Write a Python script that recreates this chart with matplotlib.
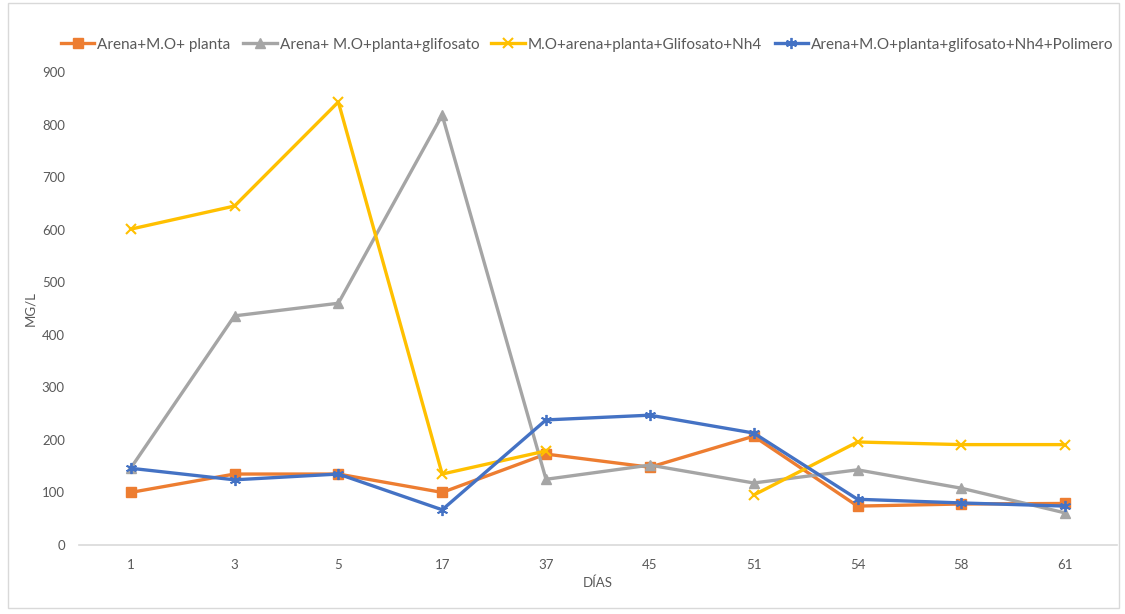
import matplotlib.pyplot as plt
import numpy as np
from matplotlib.patches import Rectangle

plt.rcParams['font.family'] = ['Lato', 'DejaVu Sans']

dias = ['1', '3', '5', '17', '37', '45', '51', '54', '58', '61']
planta = [100, 135, 135, 100, 173, 148, 207, 74, 78, 79]
glifosato = [146, 436, 460, 818, 125, 152, 118, 143, 108, 61]
nh4 = [601, 645, 843, 135, 179, np.nan, 95, 196, 191, 191]
polimero = [146, 124, 135, 67, 238, 247, 213, 87, 80, 74]

nombres = ['Arena+M.O+ planta', 'Arena+ M.O+planta+glifosato',
           'M.O+arena+planta+Glifosato+Nh4', 'Arena+M.O+planta+glifosato+Nh4+Polimero']

fig = plt.figure(figsize=(11.25, 6.14), dpi=100)
ax = fig.add_axes([0.070, 0.1124, 0.923, 0.7703])
x = np.arange(len(dias))

ax.plot(x, planta, color='#ED7D31', lw=2.4, marker='s', ms=7, label=nombres[0])
ax.plot(x, glifosato, color='#A5A5A5', lw=2.4, marker='^', ms=7, label=nombres[1])
ax.plot(x, nh4, color='#FFC000', lw=2.4, marker='x', ms=7, mew=1.5, label=nombres[2])
ax.plot(x, polimero, color='#4472C4', lw=2.4, marker=(6, 2, 0), ms=8, mew=1.3, label=nombres[3])

ax.set_xlim(-0.5, 9.5)
ax.set_ylim(0, 900)
ax.set_yticks(range(0, 901, 100))
ax.set_xticks(x)
ax.set_xticklabels(dias)
ax.tick_params(length=0, labelsize=9.5, colors='#595959', pad=10)
ax.tick_params(axis='y', pad=10)
for s in ['top', 'right', 'left']:
    ax.spines[s].set_visible(False)
ax.spines['bottom'].set_color('#D9D9D9')
ax.spines['bottom'].set_linewidth(1.2)

ax.set_xlabel('DÍAS', color='#595959', fontsize=9.5, labelpad=4)
ax.set_ylabel('MG/L', color='#595959', fontsize=9.5, labelpad=4)

fig.legend(loc='center', bbox_to_anchor=(0.522, 0.927), ncol=4, frameon=False,
           fontsize=11, labelcolor='#595959', handlelength=2.2, columnspacing=0.8,
           handletextpad=0.2)

fig.patches.append(Rectangle((0.007, 0.01), 0.988, 0.985, transform=fig.transFigure,
                             fill=False, edgecolor='#D9D9D9', lw=1))

fig.savefig('out.png', dpi=100)
